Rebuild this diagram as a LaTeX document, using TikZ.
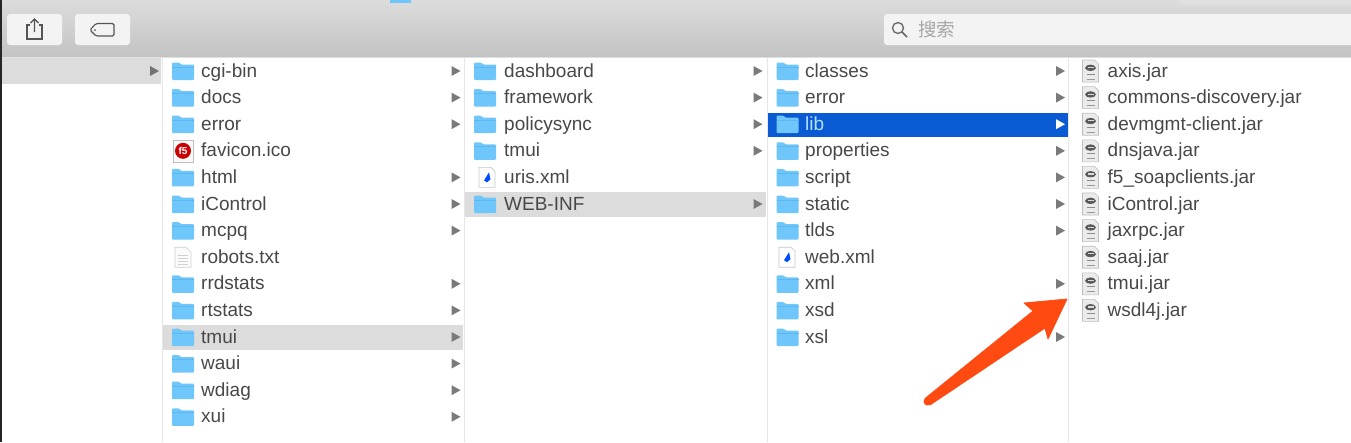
\documentclass[tikz,border=0pt]{standalone}
\usepackage{fontspec}
\setmainfont{Liberation Sans}
\newfontfamily\cjkfont{Noto Sans CJK SC}
\definecolor{folderblue}{HTML}{6EC6FA}
\definecolor{folderdark}{HTML}{5DB8F0}
\definecolor{itemtext}{HTML}{484848}
\definecolor{rowgrey}{HTML}{DCDCDC}
\definecolor{chevron}{HTML}{7A7A7A}
\definecolor{sepline}{HTML}{E6E6E6}
\definecolor{selblue}{HTML}{0A5BD3}
\definecolor{pointer}{HTML}{FF4A12}
\definecolor{iconline}{HTML}{555555}
\definecolor{bartop}{HTML}{DCDCDC}
\definecolor{barbottom}{HTML}{C3C3C3}
\definecolor{btnfill}{HTML}{F3F3F3}
\tikzset{
  x=1pt,y=-1pt,
  itemlabel/.style={anchor=base west,inner sep=0pt,font=\fontsize{19}{19}\selectfont,text=itemtext},
  toolbtn/.style={fill=btnfill,rounded corners=3pt,draw=none},
  rowband/.style={fill=rowgrey,draw=none},
  sep/.style={draw=sepline,line width=1pt},
  pics/foldericon/.style={code={
    \fill[folderblue,rounded corners=1pt] (-11,-8.5) -- (-4,-8.5) -- (-2,-6.5) -- (11,-6.5) -- (11,9) -- (-11,9) -- cycle;
    \fill[folderdark] (-11,-4.5) rectangle (11,-3.5);
  }},
  pics/jaricon/.style={code={
    \draw[fill=black!8,draw=black!25,line width=.6pt] (-8,-11) -- (4,-11) -- (8,-7) -- (8,11) -- (-8,11) -- cycle;
    \fill[black!65] (-5.5,-3) .. controls (-4.5,-7.5) and (4.5,-7.5) .. (5.5,-3) .. controls (4.5,1) and (-4.5,1) .. (-5.5,-3) -- cycle;
    \fill[black!15] (-3,-4) rectangle (3,-2.8);
    \draw[black!45,line width=.9pt] (-4,3) -- (4,3);
    \draw[black!40,line width=.8pt] (-4,8) -- (4,8);
  }},
  pics/xmlicon/.style={code={
    \draw[fill=white,draw=black!22,line width=.6pt] (-8,-10) -- (4,-10) -- (8,-6) -- (8,10) -- (-8,10) -- cycle;
    \fill[blue!70!cyan] (-3,3) -- (2,-5) -- (3.5,2) -- (0,5) -- cycle;
  }},
  pics/txticon/.style={code={
    \draw[fill=white!97!gray,draw=black!18,line width=.6pt] (-8,-10) -- (3,-10) -- (8,-5) -- (8,10) -- (-8,10) -- cycle;
    \foreach \ly in {-2,1,4,7}{\draw[black!18,line width=.6pt] (-5,\ly) -- (5,\ly);}
  }},
  pics/faviconicon/.style={code={
    \draw[fill=white!95!gray,draw=black!25,line width=.6pt] (-10,-10.5) rectangle (10,11);
    \fill[red!80!black] (0,0) circle (8);
    \node[text=white,inner sep=0pt,font=\bfseries\fontsize{10}{10}\selectfont] at (0,0) {f5};
  }},
}
\newcommand{\rowy}[1]{71+26.6*#1}
\newcommand{\chev}[3][chevron]{\fill[#1] (#2,#3-5) -- (#2+9,#3) -- (#2,#3+5) -- cycle;}
\begin{document}
\begin{tikzpicture}
\useasboundingbox (0,0) rectangle (1351,442);
\fill[white] (0,0) rectangle (1351,442);
% toolbar
\shade[top color=bartop,bottom color=barbottom] (0,0) rectangle (1351,57);
\fill[white,opacity=.12] (1180,0) rectangle (1351,5);
\fill[folderblue] (390,0) rectangle (411,3);
\draw[black!12,line width=1pt] (0,57.5) -- (1351,57.5);
\node[toolbtn,minimum width=55pt,minimum height=31pt,inner sep=0pt] (share) at (34.5,29.5) {};
\node[toolbtn,minimum width=55pt,minimum height=31pt,inner sep=0pt] (tagbtn) at (102.5,29.5) {};
\draw[iconline,line width=1.1pt] (30,25) -- (27,25) -- (27,39) -- (42,39) -- (42,25) -- (39,25);
\draw[iconline,line width=1.1pt] (34.5,32) -- (34.5,19) (30.5,23) -- (34.5,19) -- (38.5,23);
\draw[iconline,line width=1.1pt,rounded corners=1.5pt] (114,23.5) -- (96,23.5) -- (90,30) -- (96,36) -- (114,36) -- cycle;
\fill[iconline] (95,30) circle (1);
% search
\node[toolbtn,minimum width=475pt,minimum height=31pt,inner sep=0pt] (search) at (1121.5,29.5) {};
\draw[black!60,line width=1.3pt] (898,28) circle (5.5);
\draw[black!60,line width=1.6pt] (902,32) -- (907,37);
\node[anchor=base west,inner sep=0pt,text=black!35,font=\cjkfont\fontsize{18.5}{18.5}\selectfont] (searchtext) at (918,36.5) {搜索};
% left edge
\fill[black!85] (0,0) rectangle (2,442);
% highlights
\fill[rowband] (2,58) rectangle (161,84);
\fill[rowband] (163,325) rectangle (463,349.5);
\fill[rowband] (465,192) rectangle (766,217);
\fill[selblue] (767,112.5) rectangle (1067.5,137);
% separators
\draw[sep] (162,58) -- (162,442);
\draw[sep] (464.5,58) -- (464.5,442);
\draw[sep] (767,58) -- (767,442);
\draw[sep] (1068,58) -- (1068,442);
\chev[black!55]{150}{71}
% column 1
\foreach \lab/\rr/\kind in {cgi-bin/0/f,docs/1/f,error/2/f,html/4/f,iControl/5/f,mcpq/6/f,rrdstats/8/f,rtstats/9/f,tmui/10/f,waui/11/f,wdiag/12/f,xui/13/f}{
  \pic at (183,{\rowy{\rr}}) {foldericon};
  \node[itemlabel] (a\rr) at (201,{\rowy{\rr}+6}) {\lab};
  \chev{451.5}{\rowy{\rr}}
}
\pic at (183,{\rowy{3}}) {faviconicon};
\node[itemlabel] (a3) at (201,{\rowy{3}+6}) {favicon.ico};
\pic at (183,{\rowy{7}}) {txticon};
\node[itemlabel] (a7) at (201,{\rowy{7}+6}) {robots.txt};
% column 2
\foreach \lab/\rr in {dashboard/0,framework/1,policysync/2,tmui/3,WEB-INF/5}{
  \pic at (485,{\rowy{\rr}}) {foldericon};
  \node[itemlabel] (b\rr) at (504,{\rowy{\rr}+6}) {\lab};
  \chev{753.5}{\rowy{\rr}}
}
\pic at (487,{\rowy{4}}) {xmlicon};
\node[itemlabel] (b4) at (504,{\rowy{4}+6}) {uris.xml};
% column 3
\foreach \lab/\rr in {classes/0,error/1,properties/3,script/4,static/5,tlds/6,xml/8,xsl/10}{
  \pic at (787.5,{\rowy{\rr}}) {foldericon};
  \node[itemlabel] (c\rr) at (805,{\rowy{\rr}+6}) {\lab};
  \chev{1056}{\rowy{\rr}}
}
\pic at (787.5,{\rowy{2}}) {foldericon};
\node[itemlabel,text=folderblue!55!white] (c2) at (805,{\rowy{2}+6}) {lib};
\chev[white]{1056}{\rowy{2}}
\node[itemlabel] (c9) at (805,{\rowy{9}+6}) {xsd};
\pic at (787.5,{\rowy{9}}) {foldericon};
\pic at (787,{\rowy{7}}) {xmlicon};
\node[itemlabel] (c7) at (805,{\rowy{7}+6}) {web.xml};
% column 4
\foreach \lab/\rr in {axis.jar/0,commons-discovery.jar/1,devmgmt-client.jar/2,dnsjava.jar/3,f5\_soapclients.jar/4,iControl.jar/5,jaxrpc.jar/6,saaj.jar/7,tmui.jar/8,wsdl4j.jar/9}{
  \pic at (1090.5,{\rowy{\rr}}) {jaricon};
  \node[itemlabel] (d\rr) at (1107.5,{\rowy{\rr}+6}) {\lab};
}
% pointer arrow
\fill[pointer,line join=round,draw=pointer,line width=.8pt] (1067,299) -- (1048,339) -- (1045,328) -- (930,405) -- (925,398.5) -- (1033,311) -- (1024,303) -- cycle;
\fill[pointer] (927.5,401.5) circle (4);
\end{tikzpicture}
\end{document}
